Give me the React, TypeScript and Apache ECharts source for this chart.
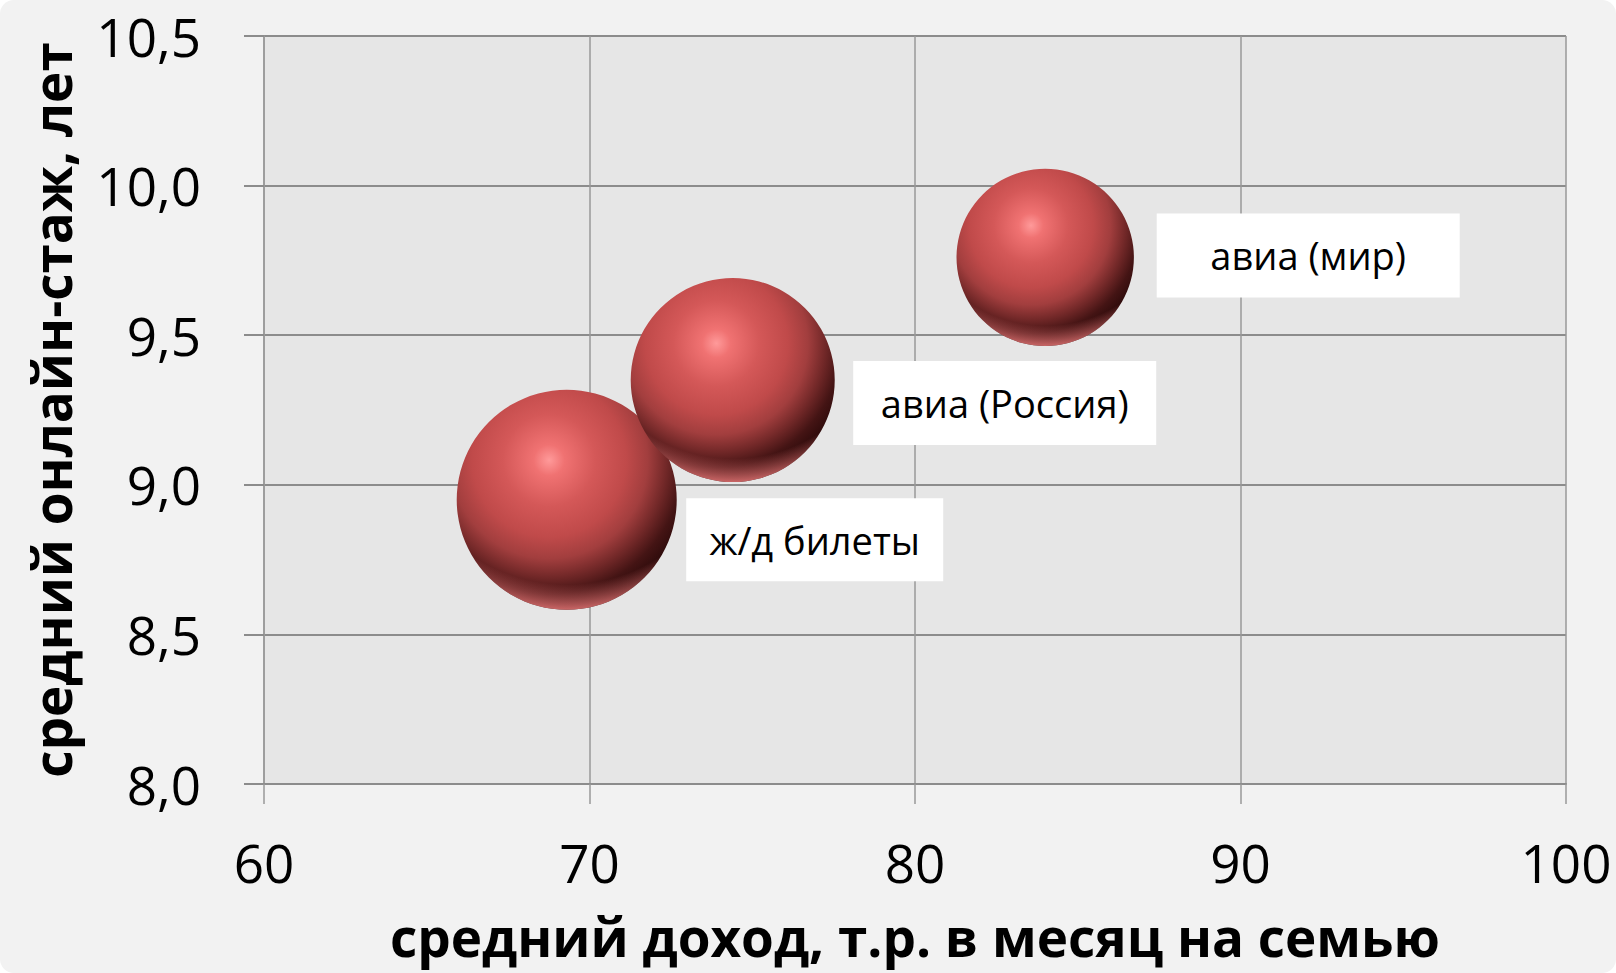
import React, { useEffect, useRef } from "react";
import * as echarts from "echarts";

// ---- data ----
const categories = ["ж/д билеты", "авиа (Россия)", "авиа (мир)"];
const income = [69.3, 74.4, 84.0]; // средний доход, т.р.
const onlineYears = [8.95, 9.35, 9.76]; // средний онлайн-стаж, лет
const bubbleSize = [100, 86, 65]; // relative bubble size
const xTicks = [60, 70, 80, 90, 100];
const yTicks = [8.0, 8.5, 9.0, 9.5, 10.0, 10.5];

// ---- label layout (box centre offset from bubble centre, box size) ----
const labelLayout = [
  { dx: 248, dy: 40, w: 257, h: 83 },
  { dx: 272, dy: 23, w: 303, h: 84 },
  { dx: 263, dy: -2, w: 303, h: 84 },
];

const FONT = "'Open Sans', 'Noto Sans', sans-serif";

export default function App() {
  const ref = useRef<HTMLDivElement>(null);

  useEffect(() => {
    if (!ref.current) return;
    const chart = echarts.init(ref.current, undefined, { renderer: "svg" });

    const data = categories.map((c, i) => [income[i], onlineYears[i], bubbleSize[i], c]);

    const baseFill = () =>
      new echarts.graphic.RadialGradient(0.42, 0.32, 0.7, [
        { offset: 0, color: "#ff9a9a" },
        { offset: 0.1, color: "#f07272" },
        { offset: 0.3, color: "#d45858" },
        { offset: 0.5, color: "#c04a4a" },
        { offset: 0.64, color: "#a23e3e" },
        { offset: 0.76, color: "#722828" },
        { offset: 0.87, color: "#441414" },
        { offset: 1, color: "#260808" },
      ]);
    const rimFill = () =>
      new echarts.graphic.RadialGradient(0.5, 0.12, 0.9, [
        { offset: 0, color: "rgba(235,115,115,0)" },
        { offset: 0.85, color: "rgba(235,115,115,0)" },
        { offset: 1, color: "rgba(240,125,125,0.95)" },
      ]);

    const option: any = {
      animation: false,
      backgroundColor: "transparent",
      textStyle: { fontFamily: FONT },
      grid: {
        left: 264,
        right: 50,
        top: 36,
        bottom: 189,
        show: true,
        backgroundColor: "#e6e6e6",
        borderWidth: 0,
      },
      xAxis: {
        type: "value",
        min: xTicks[0],
        max: xTicks[xTicks.length - 1],
        interval: 10,
        name: "средний доход, т.р. в месяц на семью",
        nameLocation: "middle",
        nameGap: 152,
        nameTextStyle: {
          fontFamily: FONT,
          fontSize: 53,
          lineHeight: 53,
          fontWeight: "bold",
          color: "#000",
          verticalAlign: "middle",
        },
        axisLine: { show: true, lineStyle: { color: "#8c8c8c", width: 2 } },
        axisTick: { show: true, inside: false, length: 20, lineStyle: { color: "#999", width: 1.5 } },
        splitLine: { show: true, lineStyle: { color: "#999", width: 1.5 } },
        axisLabel: {
          fontFamily: FONT,
          fontSize: 53,
          lineHeight: 53,
          color: "#000",
          margin: 78,
          verticalAlign: "middle",
        },
      },
      yAxis: {
        type: "value",
        min: yTicks[0],
        max: yTicks[yTicks.length - 1],
        interval: 0.5,
        name: "средний онлайн-стаж, лет",
        nameLocation: "middle",
        nameGap: 213,
        nameRotate: 90,
        nameTextStyle: {
          fontFamily: FONT,
          fontSize: 53,
          fontWeight: "bold",
          color: "#000",
          verticalAlign: "middle",
        },
        axisLine: { show: true, lineStyle: { color: "#999", width: 1.5 } },
        axisTick: { show: true, inside: false, length: 20, lineStyle: { color: "#8c8c8c", width: 2 } },
        splitLine: { show: true, lineStyle: { color: "#8c8c8c", width: 2 } },
        axisLabel: {
          fontFamily: FONT,
          fontSize: 53,
          color: "#000",
          margin: 63,
          formatter: (v: number) => v.toFixed(1).replace(".", ","),
        },
      },
      series: [
        {
          type: "custom",
          coordinateSystem: "cartesian2d",
          data,
          encode: { x: 0, y: 1 },
          renderItem: (params: any, api: any) => {
            const i = params.dataIndex;
            const pt = api.coord([api.value(0), api.value(1)]);
            const r = 110 * Math.sqrt(api.value(2) / 100);
            const lay = labelLayout[i];
            const bx = pt[0] + lay.dx - lay.w / 2;
            const by = pt[1] + lay.dy - lay.h / 2;
            return {
              type: "group",
              children: [
                {
                  type: "circle",
                  shape: { cx: pt[0], cy: pt[1], r },
                  style: { fill: baseFill() },
                },
                {
                  type: "circle",
                  shape: { cx: pt[0], cy: pt[1], r },
                  style: { fill: rimFill() },
                },
                {
                  type: "rect",
                  shape: { x: bx, y: by, width: lay.w, height: lay.h },
                  style: { fill: "#ffffff" },
                },
                {
                  type: "text",
                  x: pt[0] + lay.dx,
                  y: pt[1] + lay.dy,
                  style: {
                    text: categories[i],
                    fontFamily: FONT,
                    fontSize: 38,
                    fill: "#000",
                    align: "center",
                    verticalAlign: "middle",
                  },
                },
              ],
            };
          },
        },
      ],
    };

    chart.setOption(option);
    return () => chart.dispose();
  }, []);

  return (
    <div
      style={{
        position: "absolute",
        left: 0,
        top: 0,
        width: 1616,
        height: 973,
        background: "#ffffff",
      }}
    >
      <div
        ref={ref}
        style={{
          width: 1616,
          height: 973,
          background: "#f2f2f2",
          borderRadius: 14,
        }}
      />
    </div>
  );
}
